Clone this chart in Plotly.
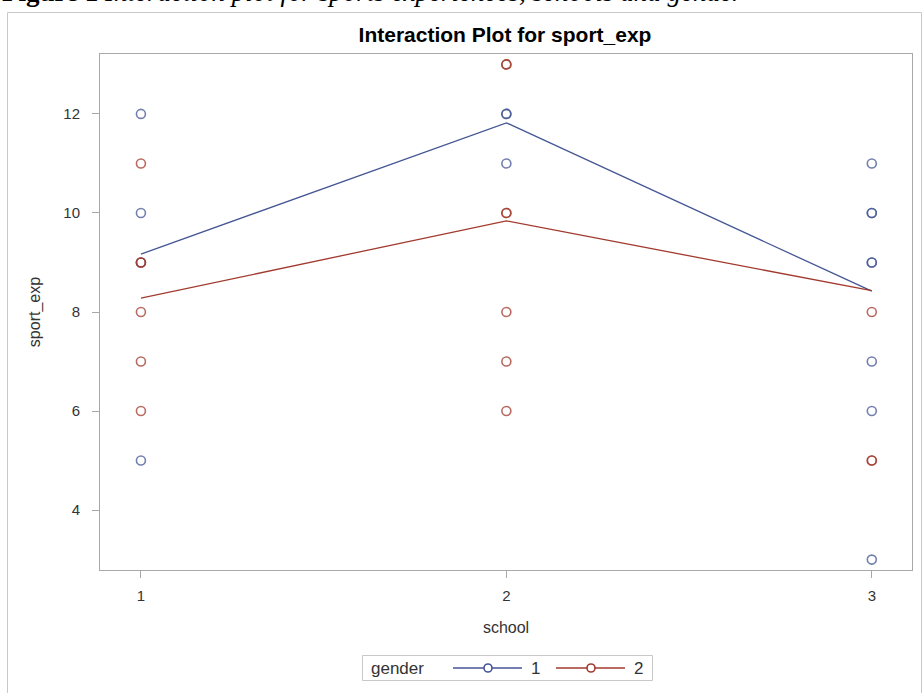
import plotly.graph_objects as go

# ---- data ----
schools = [1, 2, 3]
tick_labels = ["1", "2", "3"]
y_ticks = [4, 6, 8, 10, 12]

# individual observations (duplicates = overlapping markers)
g1_school = [1, 1, 1, 1, 2, 2, 2, 3, 3, 3, 3, 3, 3, 3, 3]
g1_value = [12, 10, 9, 5, 12, 12, 11, 11, 10, 10, 9, 9, 7, 6, 3]
g2_school = [1, 1, 1, 1, 1, 1, 2, 2, 2, 2, 2, 2, 2, 3, 3, 3]
g2_value = [11, 9, 9, 8, 7, 6, 13, 13, 10, 10, 8, 7, 6, 8, 5, 5]

# cell means (lines)
g1_mean = [9.17, 11.82, 8.42]
g2_mean = [8.28, 9.84, 8.43]

group_names = ["1", "2"]
BLUE = "#445694"
RED = "#A23A2E"
FONT = "Liberation Sans, Arial, sans-serif"
TXT = "#333333"

fig = go.Figure()

for col, xs, ys, means in [(BLUE, g1_school, g1_value, g1_mean),
                           (RED, g2_school, g2_value, g2_mean)]:
    fig.add_trace(go.Scatter(x=xs, y=ys, mode="markers", showlegend=False,
                             marker=dict(symbol="circle-open", size=9, color=col,
                                         opacity=0.75, line=dict(width=1.6, color=col)),
                             hoverinfo="skip"))
    fig.add_trace(go.Scatter(x=schools, y=means, mode="lines", showlegend=False,
                             line=dict(color=col, width=1.3)))

# px helpers: plot area x 100..912, y 54..570
L, R, T, B = 100, 912, 54, 570
def px_x(p):
    return (p - L) / (R - L)
def px_y(p):
    return (B - p) / (B - T)

shapes = [
    # outer frame
    dict(type="rect", xref="paper", yref="paper",
         x0=px_x(7.5), x1=px_x(921.5), y0=px_y(720), y1=px_y(12.5),
         line=dict(color="#c8c8c8", width=1), fillcolor="rgba(0,0,0,0)", layer="below"),
    # legend box
    dict(type="rect", xref="paper", yref="paper",
         x0=px_x(362.5), x1=px_x(652.5), y0=px_y(680.5), y1=px_y(655.5),
         line=dict(color="#c8c8c8", width=1), fillcolor="white", layer="below"),
]
annotations = [
    dict(text="<b>Figure 1</b> <i>Interaction plot for sports experiences, schools and gender</i>",
         xref="paper", yref="paper", x=px_x(0), xanchor="left",
         y=px_y(9), yanchor="bottom", showarrow=False,
         font=dict(family="Liberation Serif, Times New Roman, serif", size=27, color="#000000")),
    dict(text="gender", xref="paper", yref="paper", x=px_x(369), xanchor="left",
         y=px_y(668), yanchor="middle", showarrow=False,
         font=dict(family=FONT, size=17, color=TXT)),
]
leg_y = px_y(668)
for name, col, x_start in [(group_names[0], BLUE, 453), (group_names[1], RED, 556)]:
    shapes.append(dict(type="line", xref="paper", yref="paper",
                       x0=px_x(x_start), x1=px_x(x_start + 69), y0=leg_y, y1=leg_y,
                       line=dict(color=col, width=1.3)))
    shapes.append(dict(type="circle", xref="paper", yref="paper",
                       xsizemode="pixel", ysizemode="pixel",
                       xanchor=px_x(x_start + 35), yanchor=leg_y,
                       x0=-4, x1=4, y0=-4, y1=4,
                       line=dict(color=col, width=1.6), fillcolor="white"))
    annotations.append(dict(text=name, xref="paper", yref="paper", x=px_x(x_start + 76),
                            xanchor="left", y=leg_y, yanchor="middle", showarrow=False,
                            font=dict(family=FONT, size=17, color=TXT)))

fig.update_layout(
    width=923, height=693,
    margin=dict(l=L, r=923 - R, t=T, b=693 - B),
    paper_bgcolor="white", plot_bgcolor="white",
    showlegend=False,
    font=dict(family=FONT, size=15, color=TXT),
    title=dict(text="<b>Interaction Plot for sport_exp</b>", xref="paper", x=px_x(505),
               xanchor="center", y=1 - 35 / 693, yanchor="middle",
               font=dict(family=FONT, size=21, color="#000000")),
    xaxis=dict(range=[0.888, 3.11], tickvals=schools, ticktext=tick_labels,
               showgrid=False, zeroline=False, showline=True, mirror=True,
               linecolor="#a8a8a8", linewidth=1, ticks="outside", ticklen=7,
               tickcolor="#a8a8a8", ticklabelstandoff=5,
               tickfont=dict(size=15, color=TXT),
               title=dict(text="school", standoff=18, font=dict(size=16, color=TXT))),
    yaxis=dict(range=[2.79, 13.21], tickvals=y_ticks,
               showgrid=False, zeroline=False, showline=True, mirror=True,
               linecolor="#a8a8a8", linewidth=1, ticks="outside", ticklen=7,
               tickcolor="#a8a8a8", ticklabelstandoff=9,
               tickfont=dict(size=15, color=TXT),
               title=dict(text="sport_exp", standoff=18, font=dict(size=16, color=TXT))),
    shapes=shapes,
    annotations=annotations,
)

fig.write_html("out.html", config={"displayModeBar": False},
               post_script="document.body.style.margin='0';")
